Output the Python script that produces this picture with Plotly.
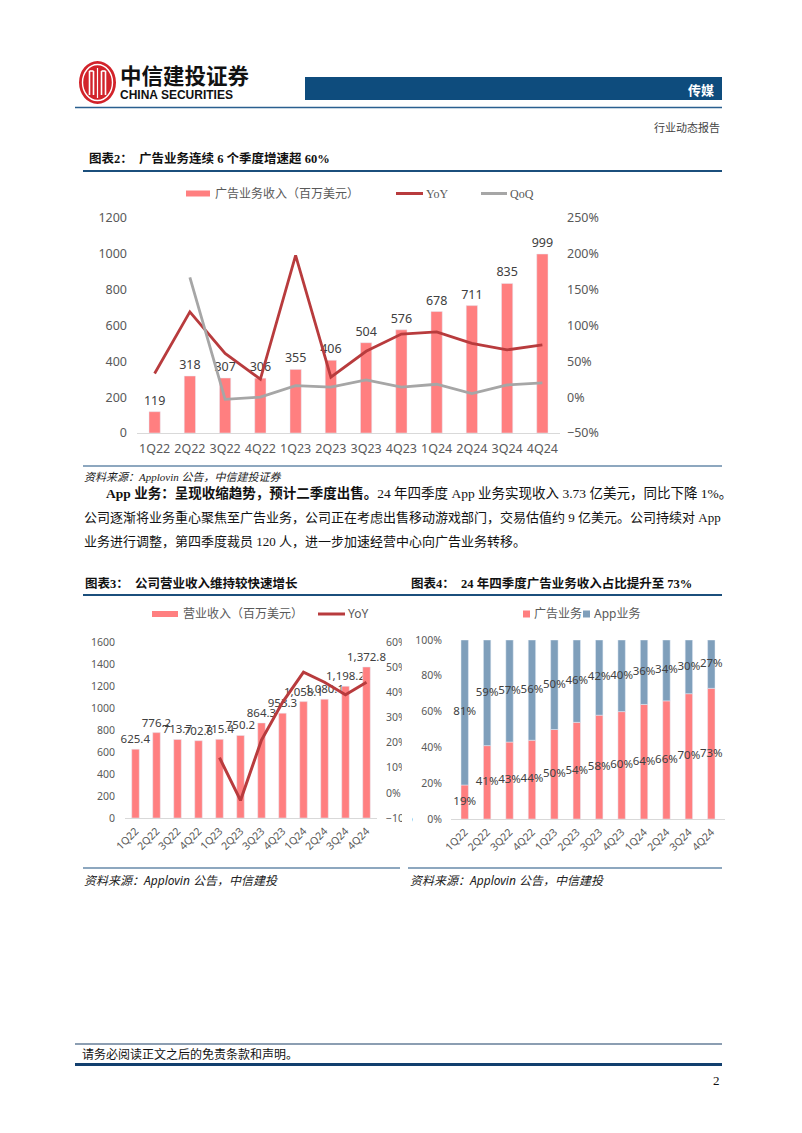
import plotly.graph_objects as go

# page offset of the figure inside the html body (default 8px body margin)
OFF = 8
W, H = 802 - 2 * OFF, 1133 - 2 * OFF
def X(px): return (px - OFF) / W
def Y(py): return 1 - (py - OFF) / H

# ---------------- data ----------------
quarters = ["1Q22", "2Q22", "3Q22", "4Q22", "1Q23", "2Q23", "3Q23", "4Q23", "1Q24", "2Q24", "3Q24", "4Q24"]
ad_revenue = [119, 318, 307, 306, 355, 406, 504, 576, 678, 711, 835, 999]
ad_yoy = [0.33, 1.19, 0.61, 0.25, 1.98, 0.28, 0.64, 0.88, 0.91, 0.75, 0.66, 0.73]
ad_qoq = [None, 1.67, -0.03, 0.00, 0.16, 0.14, 0.24, 0.14, 0.18, 0.05, 0.17, 0.20]
total_revenue = [625.4, 776.2, 713.7, 702.8, 715.4, 750.2, 864.3, 953.3, 1058.1, 1080.1, 1198.2, 1372.8]
total_yoy = [None, None, None, None, 0.14, -0.03, 0.21, 0.36, 0.48, 0.44, 0.39, 0.44]
ad_share = [19, 41, 43, 44, 50, 54, 58, 60, 64, 66, 70, 73]
app_share = [81, 59, 57, 56, 50, 46, 42, 40, 36, 34, 30, 27]

PINK = "#FF7F80"
DRED = "#B83B3D"
GREY = "#A6A6A6"
BLUEG = "#7F9FBB"
NAVY = "#1B4F7C"
TICK = "#595959"
LBL = "#404040"
SANS = "Noto Sans, Noto Sans CJK SC"
SERIF = "Liberation Serif, Noto Sans CJK SC"

fig = go.Figure()

# ---------- chart 1 ----------
fig.add_trace(go.Bar(x=quarters, y=ad_revenue, marker_color=PINK, width=0.32,
                     texttemplate="%{y}", textposition="outside", constraintext="none",
                     textfont=dict(size=12.5, color=LBL, family=SANS), cliponaxis=False,
                     xaxis="x", yaxis="y", showlegend=False))
fig.add_trace(go.Scatter(x=quarters, y=ad_yoy, mode="lines", line=dict(color=DRED, width=2.8),
                         xaxis="x", yaxis="y2", showlegend=False))
fig.add_trace(go.Scatter(x=quarters, y=ad_qoq, mode="lines", line=dict(color=GREY, width=2.8),
                         xaxis="x", yaxis="y2", showlegend=False))

# ---------- chart 2 ----------
fig.add_trace(go.Bar(x=quarters, y=total_revenue, marker_color=PINK, width=0.36,
                     texttemplate="%{y:,.1f}", textposition="outside", constraintext="none",
                     textfont=dict(size=11.5, color=LBL, family=SANS), cliponaxis=False,
                     xaxis="x2", yaxis="y3", showlegend=False))
fig.add_trace(go.Scatter(x=quarters, y=total_yoy, mode="lines", line=dict(color=DRED, width=3),
                         xaxis="x2", yaxis="y4", showlegend=False))

# ---------- chart 3 ----------
ad_frac = [v / 100 for v in ad_share]
app_frac = [v / 100 for v in app_share]
fig.add_trace(go.Bar(x=quarters, y=ad_frac, marker_color=PINK, width=0.33,
                     xaxis="x3", yaxis="y5", showlegend=False))
fig.add_trace(go.Bar(x=quarters, y=app_frac, base=ad_frac, marker_color=BLUEG, width=0.33,
                     xaxis="x3", yaxis="y5", showlegend=False))
fig.add_trace(go.Scatter(x=quarters, y=[a / 2 for a in ad_frac], mode="text",
                         text=[f"{v}%" for v in ad_share], textposition="middle center",
                         textfont=dict(size=11.5, color=LBL, family=SANS), cliponaxis=False,
                         xaxis="x3", yaxis="y5", showlegend=False))
fig.add_trace(go.Scatter(x=quarters, y=[a + b / 2 for a, b in zip(ad_frac, app_frac)], mode="text",
                         text=[f"{v}%" for v in app_share], textposition="middle center",
                         textfont=dict(size=11.5, color=LBL, family=SANS), cliponaxis=False,
                         xaxis="x3", yaxis="y5", showlegend=False))

tf1 = dict(size=12.5, color=TICK, family=SANS)
tf2 = dict(size=10.5, color=TICK, family=SANS)
common_y = dict(showgrid=False, zeroline=False, showline=False, ticks="", automargin=False)
common_x = dict(showline=True, linecolor="#D9D9D9", linewidth=1, ticks="", showgrid=False,
                zeroline=False, automargin=False)

layout = dict(
    width=W, height=H, margin=dict(l=0, r=0, t=0, b=0, pad=0, autoexpand=False),
    paper_bgcolor="white", plot_bgcolor="white", barmode="overlay", showlegend=False,
    xaxis=dict(domain=[X(137), X(560)], anchor="y", tickfont=tf1, ticklabelstandoff=4, **common_x),
    yaxis=dict(domain=[Y(433), Y(218)], anchor="x", range=[0, 1200], dtick=200,
               tickfont=tf1, ticklabelstandoff=9, **common_y),
    yaxis2=dict(overlaying="y", anchor="x", side="right", range=[-0.5, 2.5], dtick=0.5,
                tickformat=".0%", tickfont=tf1, ticklabelstandoff=6, **common_y),
    xaxis2=dict(domain=[X(125), X(377)], anchor="y3", tickfont=tf2, tickangle=-45,
                ticklabelstandoff=2, **common_x),
    yaxis3=dict(domain=[Y(818), Y(642)], anchor="x2", range=[0, 1600], dtick=200,
                tickfont=tf2, ticklabelstandoff=9, **common_y),
    yaxis4=dict(overlaying="y3", anchor="x2", side="right", range=[-0.1, 0.6], dtick=0.1,
                tickformat=".0%", tickfont=tf2, ticklabelstandoff=8, **common_y),
    xaxis3=dict(domain=[X(451), X(725)], anchor="y5", tickfont=tf2, tickangle=-45,
                ticklabelstandoff=2, **common_x),
    yaxis5=dict(domain=[Y(819), Y(640)], anchor="x3", range=[0, 1], dtick=0.2,
                tickformat=".0%", tickfont=tf2, ticklabelstandoff=8, **common_y),
)
fig.update_layout(**layout)

shapes = []
def rect(x0, y0, x1, y1, color, layer="above"):
    shapes.append(dict(type="rect", xref="paper", yref="paper", x0=X(x0), x1=X(x1),
                       y0=Y(y1), y1=Y(y0), fillcolor=color, line=dict(width=0), layer=layer))
def hline(x0, x1, y, color, width=1):
    shapes.append(dict(type="line", xref="paper", yref="paper", x0=X(x0), x1=X(x1),
                       y0=Y(y), y1=Y(y), line=dict(color=color, width=width)))
def vline(x, y0, y1, color, width=1):
    shapes.append(dict(type="line", xref="paper", yref="paper", x0=X(x), x1=X(x),
                       y0=Y(y0), y1=Y(y1), line=dict(color=color, width=width)))

ann = []
def txt(x, y, s, size=12, color="#000", family=SANS, xanchor="left"):
    ann.append(dict(xref="paper", yref="paper", x=X(x), y=Y(y), text=s, showarrow=False,
                    xanchor=xanchor, yanchor="middle", font=dict(size=size, color=color, family=family)))

# ---- header ----
shapes.append(dict(type="circle", xref="paper", yref="paper", x0=X(79), x1=X(116), y0=Y(104), y1=Y(61),
                   fillcolor="#D2232A", line=dict(width=0)))
shapes.append(dict(type="circle", xref="paper", yref="paper", x0=X(82.5), x1=X(112.5), y0=Y(100.5), y1=Y(64.5),
                   fillcolor="rgba(0,0,0,0)", line=dict(color="white", width=1.4)))
for vx in (89.5, 93.5, 101.5, 105.5):
    vline(vx, 71, 95, "white", 1.6)
hline(89.5, 93.5, 71, "white", 1.6)
hline(101.5, 105.5, 71, "white", 1.6)
vline(97.5, 68, 98, "white", 1.2)
txt(118, 75, "<b>中信建投证券</b>", size=21.5, color="#111", family="Noto Sans CJK SC")
txt(118, 95.5, "<b>CHINA SECURITIES</b>", size=12, color="#111", family="Liberation Sans")
rect(305, 77, 722, 100, "#0E4C7D")
txt(716, 89, "<b>传媒</b>", size=13, color="white", family="Noto Sans CJK SC", xanchor="right")
hline(75, 722, 107.5, "#2A5F8F", 1.4)
txt(722, 127, "行业动态报告", size=11, color="#444", family=SERIF, xanchor="right")

# ---- chart 1 frame ----
txt(87, 159, "<b>图表2：  广告业务连续 6 个季度增速超 60%</b>", size=12.5, color="#111", family=SERIF)
hline(83, 722, 171, NAVY, 2.2)
rect(186, 190.5, 210, 196.5, PINK)
txt(213, 193.5, "广告业务收入（百万美元）", size=12, color=TICK, family=SERIF)
hline(396, 423, 193.5, DRED, 3)
txt(424, 193.5, "YoY", size=12, color=TICK, family=SERIF)
hline(481, 507, 193.5, GREY, 3)
txt(508, 193.5, "QoQ", size=12, color=TICK, family=SERIF)
hline(83, 722, 466, "#8DA7BF", 2.2)
txt(82, 477, "<i>资料来源：Applovin 公告，中信建投证券</i>", size=11, color="#222", family=SERIF)

# ---- body text ----
txt(104, 493, "<b>App 业务：呈现收缩趋势，预计二季度出售。</b>24 年四季度 App 业务实现收入 3.73 亿美元，同比下降 1%。",
    size=13.5, color="#111", family=SERIF)
txt(82, 517, "公司逐渐将业务重心聚焦至广告业务，公司正在考虑出售移动游戏部门，交易估值约 9 亿美元。公司持续对 App",
    size=13, color="#111", family=SERIF)
txt(82, 541, "业务进行调整，第四季度裁员 120 人，进一步加速经营中心向广告业务转移。",
    size=13, color="#111", family=SERIF)

# ---- charts 3/4 frames ----
txt(83, 583, "<b>图表3：  公司营业收入维持较快速增长</b>", size=12.5, color="#111", family=SERIF)
txt(409, 583, "<b>图表4：  24 年四季度广告业务收入占比提升至 73%</b>", size=12.5, color="#111", family=SERIF)
hline(83, 722, 595, NAVY, 2.2)

rect(152, 611, 178, 617, PINK)
txt(181, 614, "营业收入（百万美元）", size=12, color=TICK, family=SANS)
hline(318, 345, 614, DRED, 3)
txt(346, 614, "YoY", size=12, color=TICK, family=SANS)

rect(523, 610.5, 530, 617.5, PINK)
txt(532, 614, "广告业务", size=12, color=TICK, family=SANS)
rect(583, 610.5, 590, 617.5, BLUEG)
txt(592, 614, "App业务", size=12, color=TICK, family=SANS)

# clip of right axis labels in chart 3 (as in the reference)
rect(402, 630, 412, 830, "white")

hline(83, 400, 868, "#8DA7BF", 2)
hline(408, 722, 868, "#8DA7BF", 2)
txt(82, 880, "<i>资料来源：Applovin 公告，中信建投</i>", size=12, color="#222", family=SANS)
txt(408, 880, "<i>资料来源：Applovin 公告，中信建投</i>", size=12, color="#222", family=SANS)

# ---- footer ----
hline(75, 722, 1044, "#1B3F66", 1.2)
txt(80, 1054, "请务必阅读正文之后的免责条款和声明。", size=12, color="#111", family=SERIF)
hline(75, 722, 1064.5, "#123F6E", 3.2)
txt(722, 1080, "2", size=13, color="#111", family=SERIF, xanchor="right")

fig.update_layout(shapes=shapes, annotations=ann)
fig.write_html("out.html")
